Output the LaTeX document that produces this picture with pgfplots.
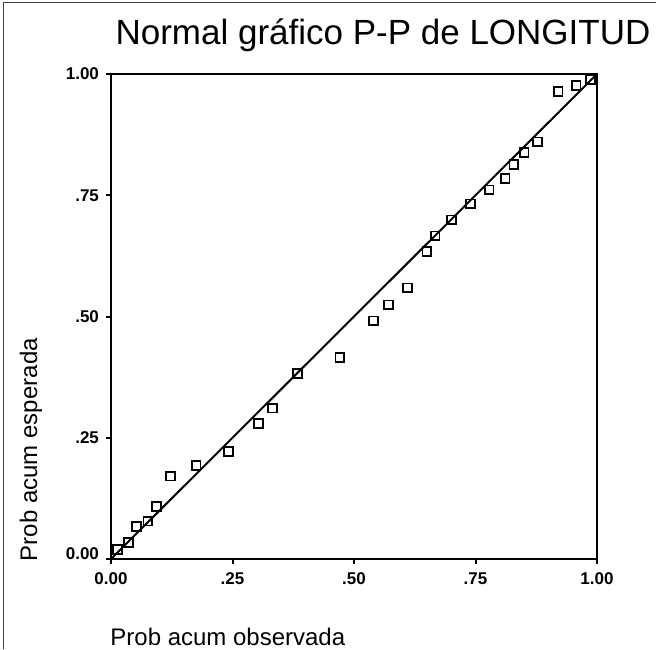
\documentclass[border=0pt]{standalone}
\usepackage{pgfplots}
\pgfplotsset{compat=1.18}
\usepackage{fontspec}
\setmainfont{Liberation Sans}
\begin{document}
\begin{tikzpicture}
\useasboundingbox (0,0) rectangle (328pt,324.5pt);
\draw[line width=0.5pt, black!75] (1.5pt,0pt) -- (1.5pt,323pt) -- (328pt,323pt);
\node[anchor=base, inner sep=0pt, font=\fontsize{17.5pt}{20pt}\selectfont] at (191.5pt,302pt) {Normal gráfico P-P de LONGITUD};
\begin{axis}[
  at={(55.5pt,45pt)}, anchor=south west,
  scale only axis, width=243pt, height=242.5pt,
  xmin=0, xmax=1, ymin=0, ymax=1,
  axis line style={line width=1pt},
  xtick={0,0.25,0.5,0.75,1}, ytick={0,0.25,0.5,0.75,1},
  xticklabels={0.00,.25,.50,.75,1.00},
  yticklabels={\raisebox{5pt}{0.00},.25,.50,.75,1.00},
  tick align=outside, major tick length=2.5pt,
  tick style={line width=1pt, black},
  xtick pos=bottom, ytick pos=left,
  ticklabel style={font=\bfseries\fontsize{8.5pt}{10pt}\selectfont},
  xticklabel style={yshift=-1pt},
  clip=false,
  every axis x label/.style={at={(axis description cs:-0.002,-0.178)}, anchor=base west, inner sep=0pt, font=\fontsize{12pt}{14pt}\selectfont},
  every axis y label/.style={at={(axis description cs:-0.165,-0.005)}, rotate=90, anchor=west, inner sep=0pt, font=\fontsize{12pt}{14pt}\selectfont},
  xlabel={Prob acum observada},
  ylabel={Prob acum esperada},
]
\addplot[no marks, line width=1pt, black] coordinates {(0,0) (1,1)};
\addplot[only marks, mark=square, mark size=2.2pt, mark options={line width=0.9pt, black, fill=white}] table {
x y
0.013 0.019
0.036 0.034
0.053 0.067
0.076 0.078
0.094 0.108
0.123 0.171
0.175 0.193
0.242 0.222
0.303 0.280
0.332 0.311
0.384 0.383
0.471 0.415
0.540 0.491
0.571 0.524
0.610 0.559
0.650 0.634
0.667 0.666
0.701 0.699
0.740 0.732
0.778 0.761
0.811 0.785
0.829 0.814
0.850 0.838
0.877 0.860
0.920 0.964
0.957 0.976
0.987 0.988
};
\end{axis}
\end{tikzpicture}
\end{document}
